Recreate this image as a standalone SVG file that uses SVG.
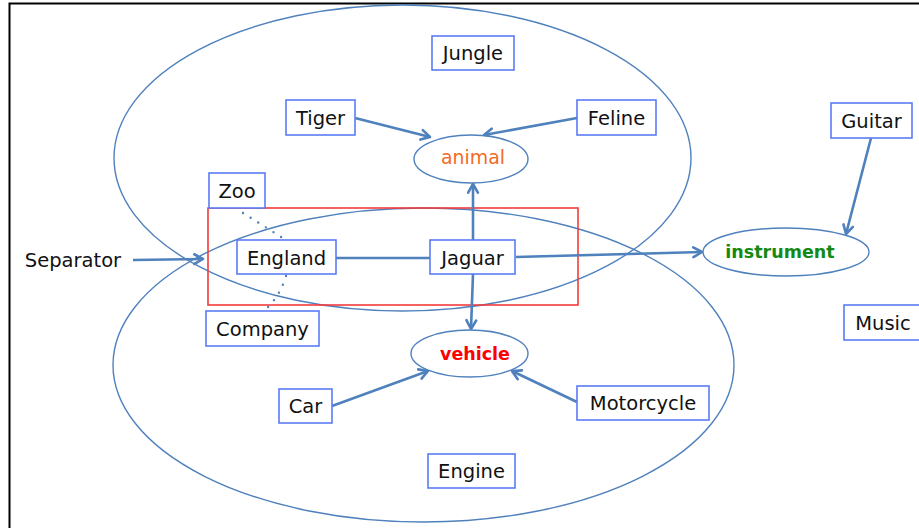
<svg xmlns="http://www.w3.org/2000/svg" width="919" height="528" viewBox="0 0 919 528">
<style>
.box{fill:#fff;stroke:#5a7cf5;stroke-width:1.6}
.reg{fill:none;stroke:#4f81bd;stroke-width:1.4}
.oval{fill:#fff;stroke:#4f81bd;stroke-width:1.4}
.t{font-family:"DejaVu Sans",sans-serif;font-size:19.5px;fill:#111;text-anchor:middle}
.b{font-weight:bold;font-size:17.5px}
.c{fill:none;stroke:#4f81bd;stroke-width:2.6}
.a{marker-end:url(#ah)}
.dot{fill:none;stroke:#4f81bd;stroke-width:2.4;stroke-linecap:round;stroke-dasharray:0 9}
</style>
<defs>
<marker id="ah" viewBox="0 0 12 12" refX="10" refY="6" markerWidth="5" markerHeight="5" markerUnits="strokeWidth" orient="auto">
<path d="M2,1.5 L10,6 L2,10.5" fill="none" stroke="#4f81bd" stroke-width="2.4" stroke-linecap="round" stroke-linejoin="round"/>
</marker>
</defs>
<rect width="919" height="528" fill="#fff"/>
<path d="M9.5,528 V3.5 H919" fill="none" stroke="#000" stroke-width="2"/>
<g id="regions">
<ellipse id="upper-region" class="reg" cx="402.5" cy="158" rx="288.5" ry="153"/>
<ellipse id="lower-region" class="reg" cx="423.5" cy="365" rx="310.5" ry="157"/>
<rect id="focus" x="208" y="208" width="370" height="97" fill="none" stroke="#f23b3b" stroke-width="1.6"/>
</g>
<g id="connectors">
<path class="dot" d="M243,213 L286,240"/>
<path class="dot" d="M286,276 Q280,296 266,309"/>
<path class="c" d="M336,258 H430"/>
<path class="c a" d="M133,260 L203,259"/>
<path class="c a" d="M355,118 L430,137"/>
<path class="c a" d="M577,118 L484,135"/>
<path class="c a" d="M871,138 L846,234"/>
<path class="c a" d="M473,240 L473,184"/>
<path class="c a" d="M473,274 L471,329"/>
<path class="c a" d="M516,257 L702,252"/>
<path class="c a" d="M332,406 L428,371"/>
<path class="c a" d="M577,402 L512,371"/>
</g>
<g id="jungle"><rect class="box" x="432" y="36" width="82" height="34"/><text class="t" x="473" y="60">Jungle</text></g>
<g id="tiger"><rect class="box" x="286" y="100" width="69" height="35"/><text class="t" x="320.5" y="124.5">Tiger</text></g>
<g id="feline"><rect class="box" x="577" y="100" width="79" height="35"/><text class="t" x="616.5" y="124.5">Feline</text></g>
<g id="guitar"><rect class="box" x="831" y="103" width="81" height="35"/><text class="t" x="871.5" y="127.5">Guitar</text></g>
<g id="animal"><ellipse class="oval" cx="471" cy="159" rx="57" ry="24"/><text class="t" x="473" y="163.5" style="fill:#f46b1f;font-size:18.9px">animal</text></g>
<g id="zoo"><rect class="box" x="209" y="173" width="56" height="35"/><text class="t" x="237" y="197.5">Zoo</text></g>
<g id="england"><rect class="box" x="237" y="240" width="99" height="34"/><text class="t" x="286.5" y="264.5">England</text></g>
<g id="jaguar"><rect class="box" x="430" y="240" width="85" height="34"/><text class="t" x="472.5" y="264.5">Jaguar</text></g>
<g id="separator"><text class="t" x="73" y="267">Separator</text></g>
<g id="instrument"><ellipse class="oval" cx="786" cy="252" rx="83" ry="24"/><text class="t b" x="780" y="258" style="fill:#138a13">instrument</text></g>
<g id="music"><rect class="box" x="844" y="305" width="78" height="35"/><text class="t" x="883" y="329.5">Music</text></g>
<g id="company"><rect class="box" x="206" y="311" width="113" height="35"/><text class="t" x="262.5" y="335.5">Company</text></g>
<g id="vehicle"><ellipse class="oval" cx="469.5" cy="353.5" rx="58.5" ry="23.5"/><text class="t b" x="475" y="360" style="fill:#ff0000">vehicle</text></g>
<g id="car"><rect class="box" x="279" y="389" width="53" height="34"/><text class="t" x="305.5" y="413">Car</text></g>
<g id="motorcycle"><rect class="box" x="577" y="386" width="132" height="34"/><text class="t" x="643" y="410">Motorcycle</text></g>
<g id="engine"><rect class="box" x="428" y="454" width="87" height="34"/><text class="t" x="471.5" y="478">Engine</text></g>
</svg>
